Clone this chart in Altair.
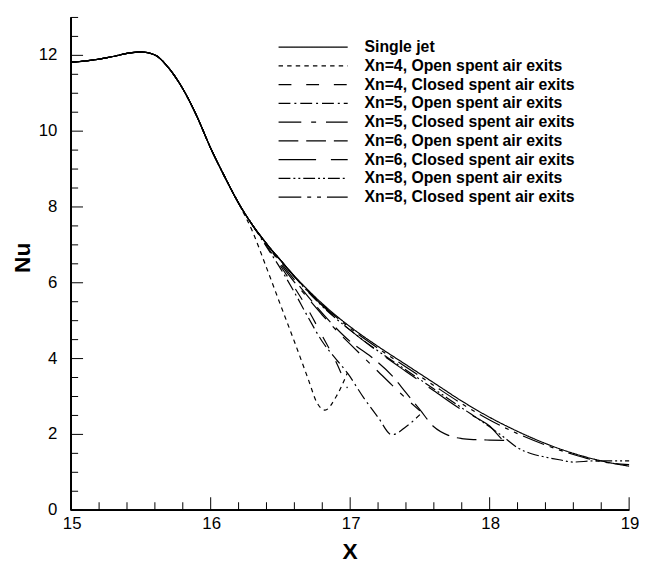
import altair as alt
import pandas as pd

# ---------------- data ----------------
LABELS = [
    "Single jet",
    "Xn=4, Open spent air exits",
    "Xn=4, Closed spent air exits",
    "Xn=5, Open spent air exits",
    "Xn=5, Closed spent air exits",
    "Xn=6, Open spent air exits",
    "Xn=6, Closed spent air exits",
    "Xn=8, Open spent air exits",
    "Xn=8, Closed spent air exits",
]
DASHES = [[1, 0], [4.5, 4.2], [13, 15], [12, 4, 2, 4], [23, 10, 5, 10],
          [20, 8], [38, 15], [12, 3, 2, 3, 2, 3], [23, 6, 4, 6, 4, 6]]

HEAD_X = [15.0, 15.1, 15.2, 15.3, 15.4, 15.5, 15.6, 15.7, 15.8, 15.9, 16.0, 16.1, 16.2]
HEAD_Y = [11.82, 11.85, 11.9, 11.97, 12.05, 12.09, 12.01, 11.66, 11.12, 10.4, 9.55, 8.8, 8.1]

SJ_X = HEAD_X + [16.3, 16.4, 16.5, 16.6, 16.7, 16.8, 16.9, 17.0, 17.2, 17.4, 17.6, 17.8, 18.0, 18.2, 18.4, 18.6, 18.8, 19.0]
SJ_Y = HEAD_Y + [7.52, 7.03, 6.6, 6.18, 5.8, 5.45, 5.13, 4.84, 4.32, 3.84, 3.36, 2.88, 2.45, 2.08, 1.76, 1.5, 1.3, 1.16]

X4O_X = HEAD_X + [16.3, 16.4, 16.5, 16.6, 16.7, 16.76, 16.82, 16.9, 16.98]
X4O_Y = HEAD_Y + [7.35, 6.4, 5.42, 4.45, 3.45, 2.85, 2.64, 3.0, 3.62]

X4C_X = HEAD_X + [16.3, 16.4, 16.5, 16.6, 16.7, 16.8, 16.9, 16.98]
X4C_Y = HEAD_Y + [7.52, 6.98, 6.45, 5.88, 5.28, 4.6, 3.9, 3.22]

X5O_X = HEAD_X + [16.3, 16.4, 16.5, 16.6, 16.7, 16.8, 16.9, 16.98, 17.1, 17.2, 17.3, 17.4, 17.5]
X5O_Y = HEAD_Y + [7.52, 6.95, 6.38, 5.75, 5.08, 4.45, 3.98, 3.62, 2.95, 2.45, 1.99, 2.2, 2.52]

X5C_X = HEAD_X + [16.3, 16.4, 16.5, 16.6, 16.7, 16.8, 16.9, 17.0, 17.1, 17.2, 17.3, 17.4, 17.5]
X5C_Y = HEAD_Y + [7.52, 7.03, 6.5, 6.02, 5.58, 5.15, 4.75, 4.38, 4.02, 3.66, 3.3, 2.95, 2.62]

X6O_X = HEAD_X + [16.3, 16.4, 16.5, 16.6, 16.7, 16.8, 16.9, 17.0, 17.15, 17.3, 17.4, 17.5, 17.6, 17.7, 17.8, 17.9, 18.0, 18.13]
X6O_Y = HEAD_Y + [7.52, 7.03, 6.55, 6.08, 5.63, 5.2, 4.8, 4.45, 4.05, 3.55, 3.1, 2.65, 2.2, 1.98, 1.89, 1.86, 1.85, 1.84]

X6C_X = HEAD_X + [16.3, 16.4, 16.5, 16.6, 16.7, 16.8, 16.9, 17.0, 17.2, 17.4, 17.6, 17.8, 17.9, 18.0, 18.08, 18.14]
X6C_Y = HEAD_Y + [7.52, 7.03, 6.6, 6.16, 5.77, 5.4, 5.06, 4.75, 4.18, 3.66, 3.15, 2.65, 2.45, 2.22, 1.9, 1.68]

X8O_X = HEAD_X + [16.3, 16.4, 16.5, 16.6, 16.8, 17.0, 17.2, 17.4, 17.6, 17.8, 18.0, 18.1, 18.2, 18.3, 18.4, 18.5, 18.6, 18.75, 18.9, 19.0]
X8O_Y = HEAD_Y + [7.52, 7.03, 6.6, 6.16, 5.38, 4.75, 4.2, 3.7, 3.2, 2.7, 2.2, 1.93, 1.65, 1.49, 1.4, 1.33, 1.27, 1.3, 1.3, 1.3]

X8C_X = HEAD_X + [16.3, 16.4, 16.5, 16.6, 16.8, 17.0, 17.2, 17.4, 17.6, 17.8, 18.0, 18.2, 18.4, 18.6, 18.8, 19.0]
X8C_Y = HEAD_Y + [7.52, 7.03, 6.6, 6.17, 5.42, 4.8, 4.27, 3.78, 3.29, 2.81, 2.38, 2.02, 1.72, 1.47, 1.28, 1.2]

SERIES = [(SJ_X, SJ_Y), (X4O_X, X4O_Y), (X4C_X, X4C_Y), (X5O_X, X5O_Y), (X5C_X, X5C_Y),
          (X6O_X, X6O_Y), (X6C_X, X6C_Y), (X8O_X, X8O_Y), (X8C_X, X8C_Y)]

X_MAJOR = [15, 16, 17, 18, 19]
X_MINOR = [15.2, 15.4, 15.6, 15.8, 16.2, 16.4, 16.6, 16.8, 17.2, 17.4, 17.6, 17.8,
           18.2, 18.4, 18.6, 18.8]
Y_MAJOR = [0, 2, 4, 6, 8, 10, 12]
Y_MINOR = [0.5, 1, 1.5, 2.5, 3, 3.5, 4.5, 5, 5.5, 6.5, 7, 7.5, 8.5, 9, 9.5, 10.5, 11, 11.5, 12.5, 13]
X_TITLE = "X"
Y_TITLE = "Nu"

# ---------------- build tables ----------------
rows = []
for lab, (xs, ys) in zip(LABELS, SERIES):
    for x, y in zip(xs, ys):
        rows.append({"series": lab, "x": x, "y": y})
df = pd.DataFrame(rows)
df_xmaj = pd.DataFrame({"x": X_MAJOR, "t": [str(v) for v in X_MAJOR]})
df_xmin = pd.DataFrame({"x": X_MINOR})
df_ymaj = pd.DataFrame({"y": Y_MAJOR, "t": [str(v) for v in Y_MAJOR]})
df_ymin = pd.DataFrame({"y": Y_MINOR})

W, H = 565, 499
FONT = "Liberation Sans"

xscale = alt.Scale(domain=[15, 19], nice=False, zero=False)
yscale = alt.Scale(domain=[0, 13], nice=False, zero=False)

lines = alt.Chart(df).mark_line(color="black", strokeWidth=1.2, interpolate="monotone").encode(
    x=alt.X("x:Q", scale=xscale, axis=None),
    y=alt.Y("y:Q", scale=yscale, axis=None),
    strokeDash=alt.StrokeDash(
        "series:N",
        scale=alt.Scale(domain=LABELS, range=DASHES),
        sort=LABELS,
        legend=alt.Legend(
            orient="none", legendX=209, legendY=22, title=None,
            symbolType="stroke", symbolSize=4900, symbolStrokeWidth=1.2,
            symbolStrokeColor="black", clipHeight=16, rowPadding=3,
            labelFont=FONT, labelFontWeight="bold", labelFontSize=16,
            labelColor="black", labelOffset=16, labelLimit=400, padding=0,
        ),
    ),
)

# axis frame (left and bottom only)
xline = alt.Chart(df_xmaj).mark_rule(color="black", strokeWidth=1.3).encode(
    x=alt.value(0), x2=alt.value(W), y=alt.value(H))
yline = alt.Chart(df_ymaj).mark_rule(color="black", strokeWidth=1.3).encode(
    x=alt.value(0), y=alt.value(0), y2=alt.value(H))

# inward-pointing tick marks placed through the scales
xmaj = alt.Chart(df_xmaj).mark_tick(color="black", thickness=1, size=13, orient="vertical",
                                    opacity=1).encode(
    x=alt.X("x:Q", scale=xscale, axis=None), y=alt.value(H - 6.5))
xmin = alt.Chart(df_xmin).mark_tick(color="black", thickness=1, size=8, orient="vertical",
                                    opacity=1).encode(
    x=alt.X("x:Q", scale=xscale, axis=None), y=alt.value(H - 4))
ymaj = alt.Chart(df_ymaj).mark_tick(color="black", thickness=1, size=12, orient="horizontal",
                                    opacity=1).encode(
    y=alt.Y("y:Q", scale=yscale, axis=None), x=alt.value(6))
ymin = alt.Chart(df_ymin).mark_tick(color="black", thickness=1, size=7, orient="horizontal",
                                    opacity=1).encode(
    y=alt.Y("y:Q", scale=yscale, axis=None), x=alt.value(3.5))

# tick labels
xlab = alt.Chart(df_xmaj).mark_text(font=FONT, fontSize=17, color="black", align="center",
                                    baseline="top", dx=1).encode(
    x=alt.X("x:Q", scale=xscale, axis=None), y=alt.value(H + 6), text="t:N")
ylab = alt.Chart(df_ymaj).mark_text(font=FONT, fontSize=17, color="black", align="right",
                                    baseline="middle").encode(
    y=alt.Y("y:Q", scale=yscale, axis=None), x=alt.value(-14), text="t:N")

# axis titles
xtitle = alt.Chart(pd.DataFrame({"t": [X_TITLE]})).mark_text(
    font=FONT, fontSize=23, fontWeight="bold", color="black", align="center",
    baseline="middle").encode(x=alt.value(W / 2), y=alt.value(H + 42), text="t:N")
ytitle = alt.Chart(pd.DataFrame({"t": [Y_TITLE]})).mark_text(
    font=FONT, fontSize=23, fontWeight="bold", color="black", align="center",
    baseline="middle", angle=270).encode(x=alt.value(-49), y=alt.value(H / 2 - 6), text="t:N")

chart = alt.layer(xline, yline, xmaj, xmin, ymaj, ymin, xlab, ylab, xtitle, ytitle, lines).properties(
    width=W, height=H,
    autosize=alt.AutoSizeParams(type="none"),
    padding={"left": 64, "top": 6, "right": 10, "bottom": 56},
).configure_view(stroke=None)

chart.save("out.html", embed_options={"renderer": "svg", "actions": False})
